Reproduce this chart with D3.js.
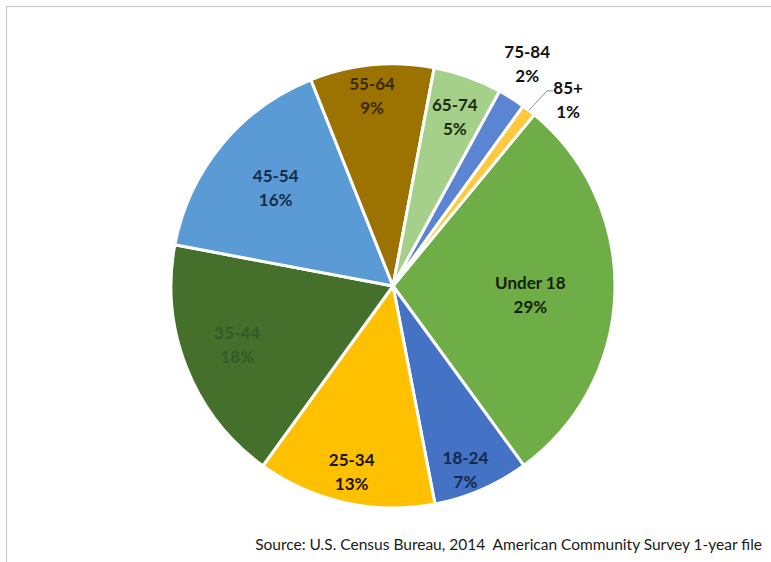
<!DOCTYPE html>
<html>
<head>
<meta charset="utf-8">
<script src="https://cdn.jsdelivr.net/npm/d3@7/dist/d3.min.js"></script>
<style>
  html, body { margin: 0; padding: 0; background: #ffffff; }
  svg { display: block; }
</style>
</head>
<body>
<svg id="chart" width="771" height="562"></svg>
<script>
// Age distribution, share of population (%)
const categories = ["Under 18", "18-24", "25-34", "35-44", "45-54", "55-64", "65-74", "75-84", "85+"];
const shares = [29, 7, 13, 18, 16, 9, 5, 2, 1];
const colors = ["#6fad46", "#4472c4", "#ffc000", "#44702b", "#5b9bd5", "#9c7300", "#a5d08a", "#5b84d2", "#ffc83d"];
const textColors = ["#15210c", "#17284a", "#1a1400", "#35592a", "#172b4a", "#3a2a00", "#1a2a10", "#111111", "#111111"];
const sourceNote = "Source: U.S. Census Bureau, 2014  American Community Survey 1-year file";

const data = categories.map((c, i) => ({ category: c, value: shares[i], color: colors[i], text: textColors[i] }));

const svg = d3.select("#chart");
const cx = 393, cy = 286, R = 222;
const deg = Math.PI / 180;
const start = 39.5 * deg;

// thin frame along the top and left
svg.append("rect")
  .attr("x", 6.5).attr("y", 6.5).attr("width", 900).attr("height", 900)
  .attr("fill", "none").attr("stroke", "#c9c9c9").attr("stroke-width", 1.2);

const pie = d3.pie().sort(null).value(d => d.value)
  .startAngle(start).endAngle(start + 2 * Math.PI);
const arcs = pie(data);
const arc = d3.arc().innerRadius(0).outerRadius(R);

const g = svg.append("g").attr("transform", `translate(${cx},${cy})`);

g.selectAll("path.slice").data(arcs).join("path")
  .attr("class", "slice")
  .attr("d", arc)
  .attr("fill", d => d.data.color)
  .attr("stroke", "#ffffff")
  .attr("stroke-width", 3)
  .attr("stroke-linejoin", "round");

// label placement: radius as a fraction of R, plus an angular nudge (degrees)
const labelLayout = {
  "Under 18": { r: 0.62, da: 2 },
  "18-24": { r: 0.89, da: 2 },
  "25-34": { r: 0.86, da: 0 },
  "35-44": { r: 0.75, da: 1 },
  "45-54": { r: 0.69, da: 0.5 },
  "55-64": { r: 0.86, da: -0.8 },
  "65-74": { r: 0.81, da: 0.4 },
  "75-84": { r: 1.17, da: -1.2 },
  "85+": { r: 1.15, da: 5.6 }
};
const polar = (a, r) => [Math.sin(a) * r, -Math.cos(a) * r];

const labels = g.selectAll("g.label").data(arcs).join("g")
  .attr("class", "label")
  .attr("transform", d => {
    const L = labelLayout[d.data.category];
    const mid = (d.startAngle + d.endAngle) / 2 + L.da * deg;
    const [x, y] = polar(mid, R * L.r);
    return `translate(${x},${y})`;
  });

labels.append("text")
  .attr("text-anchor", "middle")
  .attr("font-family", "Lato, 'Open Sans', sans-serif")
  .attr("font-weight", "bold")
  .attr("font-size", 17)
  .attr("fill", d => d.data.text)
  .selectAll("tspan")
  .data(d => [d.data.category, d.data.value + "%"])
  .join("tspan")
  .attr("x", 0)
  .attr("y", (t, i) => i === 0 ? -6 : 18)
  .text(t => t);

// leader line for the smallest slice
const tiny = arcs[arcs.length - 1];
const tMid = (tiny.startAngle + tiny.endAngle) / 2;
const p0 = polar(tMid, R * 1.0);
const p1 = polar(tMid + 0.6 * deg, R * 1.12);
g.append("polyline")
  .attr("points", [p0, p1, [p1[0] + 6, p1[1]]].map(p => p.join(",")).join(" "))
  .attr("fill", "none")
  .attr("stroke", "#8c8c8c")
  .attr("stroke-width", 1);

svg.append("text")
  .attr("x", 762).attr("y", 550)
  .attr("text-anchor", "end")
  .attr("font-family", "Lato, 'Open Sans', sans-serif")
  .attr("font-size", 15.5)
  .attr("fill", "#1a1a1a")
  .style("white-space", "pre")
  .text(sourceNote);
</script>
</body>
</html>
